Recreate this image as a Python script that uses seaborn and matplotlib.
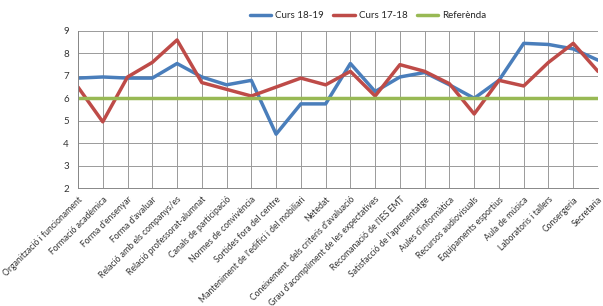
import matplotlib
matplotlib.use("Agg")
import matplotlib.pyplot as plt
import seaborn as sns
import pandas as pd
import numpy as np

categories = [
    "Organització i funcionament", "Formació acadèmica", "Forma d'ensenyar",
    "Forma d'avaluar", "Relació amb els companys/es", "Relació professorat-alumnat",
    "Canals de participació", "Normes de convivència", "Sortides fora del centre",
    "Manteniment de l'edifici i del mobiliari", "Netedat",
    "Coneixement  dels criteris d'avaluació",
    "Grau d'acompliment de les expectatives", "Recomanació de l'IES EMT",
    "Satisfacció de l'aprenentatge", "Aules d'informàtica", "Recursos audiovisuals",
    "Equipaments esportius", "Aula de música", "Laboratoris i tallers",
    "Consergeria", "Secretaria",
]
curs_18_19 = [6.9, 6.95, 6.9, 6.9, 7.55, 6.95, 6.6, 6.8, 4.4, 5.75, 5.75,
              7.55, 6.3, 6.95, 7.15, 6.6, 6.0, 6.8, 8.45, 8.4, 8.2, 7.7]
curs_17_18 = [6.5, 4.95, 6.95, 7.6, 8.6, 6.7, 6.4, 6.1, 6.5, 6.9, 6.6,
              7.2, 6.1, 7.5, 7.2, 6.65, 5.3, 6.8, 6.55, 7.6, 8.45, 7.2]
referencia = [6.0] * len(categories)

series_names = ["Curs 18-19", "Curs 17-18", "Referènda"]
colors = ["#4A7EBB", "#BE4B48", "#98B954"]

idx = np.arange(len(categories))
df = pd.DataFrame({
    "idx": np.concatenate([idx, idx, idx]),
    "valor": curs_18_19 + curs_17_18 + referencia,
    "serie": [series_names[0]] * len(idx) + [series_names[1]] * len(idx) + [series_names[2]] * len(idx),
})

sns.set_style("white")
plt.rcParams["font.family"] = ["Lato", "DejaVu Sans"]

fig = plt.figure(figsize=(6.03, 3.06), dpi=100)
ax = fig.add_axes([78 / 603, 1 - 188 / 306, (598 - 78) / 603, (188 - 31) / 306])

sns.lineplot(data=df, x="idx", y="valor", hue="serie", hue_order=series_names,
             palette=colors, linewidth=2.5, ax=ax, sort=False, legend=False)

ax.set_xlim(0, len(categories) - 1)
ax.set_ylim(2, 9)
ax.set_yticks(range(2, 10))
ax.set_xticks(idx)
ax.set_xticklabels(categories, rotation=45, ha="right", rotation_mode="anchor",
                   fontsize=6.2, color="#333333")
ax.tick_params(axis="y", labelsize=7, colors="#333333", length=3, color="#888888", width=0.6)
ax.tick_params(axis="x", length=3, color="#888888", width=0.6, pad=2)
ax.grid(True, color="#9a9a9a", linewidth=0.7)
ax.set_axisbelow(True)
for s in ["top", "right"]:
    ax.spines[s].set_visible(False)
for s in ["left", "bottom"]:
    ax.spines[s].set_color("#888888")
    ax.spines[s].set_linewidth(0.7)
ax.set_xlabel("")
ax.set_ylabel("")

from matplotlib.lines import Line2D
handles = [Line2D([0], [0], color=c, lw=2.5) for c in colors]
fig.legend(handles, series_names, loc="center", bbox_to_anchor=(368 / 603, 1 - 16 / 306),
           ncol=3, frameon=False, fontsize=7, handlelength=2.2, columnspacing=1.0,
           handletextpad=0.4)

fig.savefig("out.png", dpi=100)
